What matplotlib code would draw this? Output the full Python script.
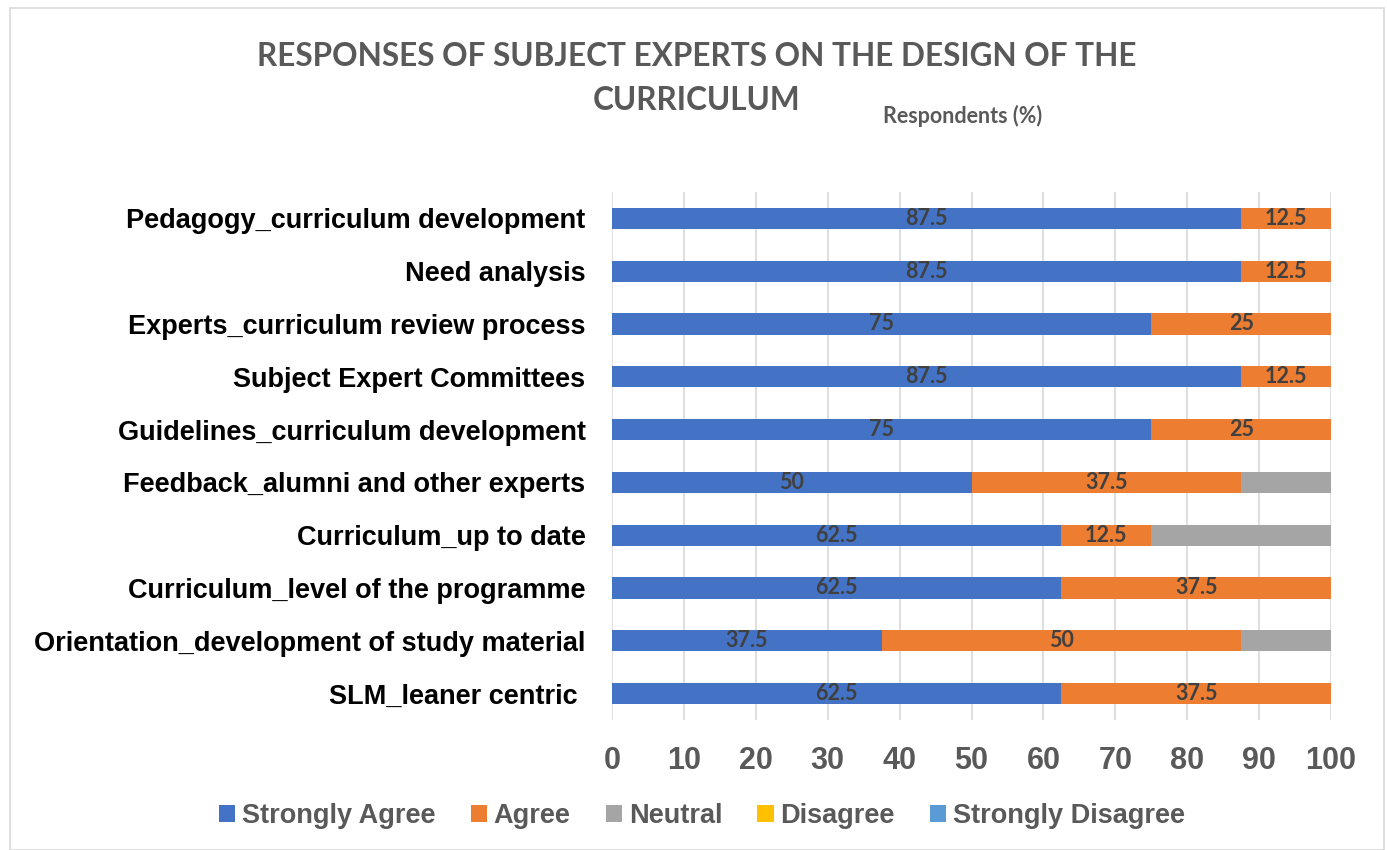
import matplotlib

matplotlib.use("Agg")
import matplotlib.pyplot as plt
from matplotlib.patches import Rectangle

CATEGORIES = [
    "Pedagogy_curriculum development",
    "Need analysis",
    "Experts_curriculum review process",
    "Subject Expert Committees",
    "Guidelines_curriculum development",
    "Feedback_alumni and other experts",
    "Curriculum_up to date",
    "Curriculum_level of the programme",
    "Orientation_development of study material",
    "SLM_leaner centric ",
]
STRONGLY_AGREE = [87.5, 87.5, 75, 87.5, 75, 50, 62.5, 62.5, 37.5, 62.5]
AGREE = [12.5, 12.5, 25, 12.5, 25, 37.5, 12.5, 37.5, 50, 37.5]
NEUTRAL = [0, 0, 0, 0, 0, 12.5, 25, 0, 12.5, 0]
DISAGREE = [0, 0, 0, 0, 0, 0, 0, 0, 0, 0]
STRONGLY_DISAGREE = [0, 0, 0, 0, 0, 0, 0, 0, 0, 0]
X_TICKS = [0, 10, 20, 30, 40, 50, 60, 70, 80, 90, 100]

SERIES = [
    ("Strongly Agree", STRONGLY_AGREE, "#4472C4", True),
    ("Agree", AGREE, "#ED7D31", True),
    ("Neutral", NEUTRAL, "#A5A5A5", False),
    ("Disagree", DISAGREE, "#FFC000", False),
    ("Strongly Disagree", STRONGLY_DISAGREE, "#5B9BD5", False),
]

W, H = 1387, 850
fig = plt.figure(figsize=(W / 100, H / 100), dpi=100)
fig.patches.append(Rectangle((10 / W, 0), 1374 / W, 1 - 8 / H, transform=fig.transFigure,
                             fill=False, edgecolor="#D9D9D9", linewidth=1.2))

ax = fig.add_axes([612 / W, 1 - 720 / H, (1331 - 612) / W, (720 - 192) / H])
y = list(range(len(CATEGORIES)))
left = [0.0] * len(CATEGORIES)
for name, vals, color, show in SERIES:
    bars = ax.barh(y, vals, left=left, height=0.4, color=color, label=name, zorder=2)
    if show:
        labels = [f"{v:g}" if v else "" for v in vals]
        ax.bar_label(bars, labels=labels, label_type="center", color="#404040",
                     fontsize=15.5, fontweight="bold", family="Lato")
    left = [a + b for a, b in zip(left, vals)]

ax.set_xlim(0, 100)
ax.set_ylim(len(CATEGORIES) - 0.5, -0.5)
ax.set_xticks(X_TICKS)
ax.set_yticks(y)
ax.set_yticklabels(CATEGORIES, fontsize=19.5, fontweight="bold", color="black",
                   family="Liberation Sans")
ax.tick_params(axis="y", length=0, pad=19)
ax.tick_params(axis="x", length=0, pad=19, labelsize=22, labelcolor="#595959")
for lab in ax.get_xticklabels():
    lab.set_fontweight("bold")
    lab.set_family("Liberation Sans")
ax.grid(axis="x", color="#D9D9D9", linewidth=1.2, zorder=0)
for s in ax.spines.values():
    s.set_visible(False)

fig.text(697 / W, 1 - 66 / H, "RESPONSES OF SUBJECT EXPERTS ON THE DESIGN OF THE",
         ha="center", va="baseline", fontsize=22.7, fontweight="bold", color="#595959", family="Lato")
fig.text(697 / W, 1 - 110 / H, "CURRICULUM",
         ha="center", va="baseline", fontsize=22.7, fontweight="bold", color="#595959", family="Lato")
fig.text(963 / W, 1 - 116 / H, "Respondents (%)",
         ha="center", va="center", fontsize=15.5, fontweight="bold", color="#595959", family="Lato")

fig.legend(loc="center", bbox_to_anchor=(702 / W, 1 - 816 / H), ncol=5, frameon=False,
           prop={"family": "Liberation Sans", "weight": "bold", "size": 19.5},
           labelcolor="#595959", handlelength=0.6, handleheight=0.6, handletextpad=0.25,
           columnspacing=1.3)

fig.savefig("out.png", dpi=100)
